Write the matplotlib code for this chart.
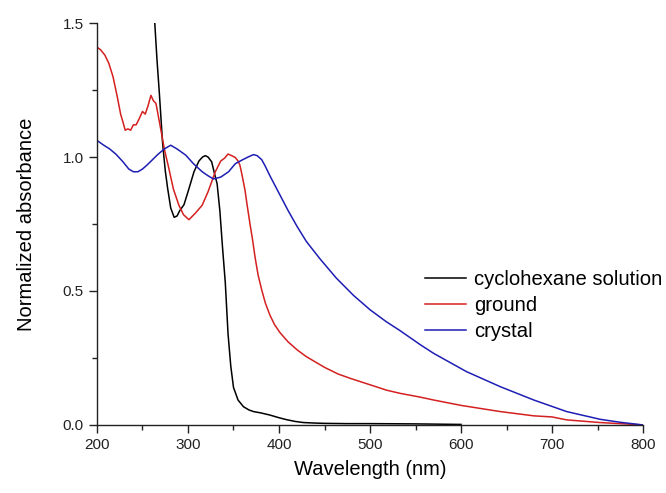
import numpy as np
import matplotlib
matplotlib.use("Agg")
import matplotlib.pyplot as plt
from matplotlib.ticker import MultipleLocator

plt.rcParams['font.family'] = ['Liberation Sans', 'DejaVu Sans']

# cyclohexane solution
wl_sol = [263.5, 266, 268.5, 272, 275, 277.6, 281, 284.8, 288, 291, 295.6, 300,
          306.6, 312, 316, 319, 322, 326, 329, 332, 335, 338, 341, 344, 347, 350,
          355, 361, 367, 372, 380, 390, 400, 408, 418, 427, 440, 450, 475, 500, 550, 600]
abs_sol = [1.50, 1.36, 1.24, 1.056, 0.95, 0.884, 0.81, 0.775, 0.78, 0.80, 0.822, 0.87,
           0.945, 0.985, 1.0, 1.005, 1.0, 0.982, 0.94, 0.90, 0.80, 0.66, 0.53, 0.34,
           0.22, 0.14, 0.093, 0.068, 0.056, 0.05, 0.045, 0.037, 0.027, 0.02, 0.013,
           0.009, 0.007, 0.006, 0.005, 0.005, 0.004, 0.002]

# ground
wl_gr = [200, 204, 208.7, 213, 217.6, 222, 226, 228.6, 231, 234, 237, 240, 243, 246,
         250, 253, 256, 259.3, 262, 264.8, 267, 270, 274, 279, 284, 290, 295, 301,
         308, 315.6, 322, 330, 336, 340, 344, 348, 352, 355, 357, 359, 362.6, 365,
         368, 371, 373.6, 377, 381, 385, 390, 395, 401, 410, 420, 430, 440, 450, 465,
         480, 500, 518, 533, 555, 570, 600, 643, 680, 700, 716, 752.7, 780, 800]
abs_gr = [1.41, 1.40, 1.38, 1.35, 1.30, 1.23, 1.16, 1.13, 1.10, 1.105, 1.10, 1.12,
          1.12, 1.14, 1.17, 1.16, 1.19, 1.23, 1.21, 1.20, 1.16, 1.105, 1.03, 0.957,
          0.88, 0.82, 0.785, 0.766, 0.79, 0.82, 0.87, 0.945, 0.985, 0.995, 1.011,
          1.005, 0.998, 0.985, 0.97, 0.939, 0.877, 0.82, 0.753, 0.69, 0.628, 0.56,
          0.504, 0.455, 0.41, 0.375, 0.345, 0.31, 0.28, 0.255, 0.235, 0.215, 0.19,
          0.172, 0.15, 0.13, 0.118, 0.104, 0.093, 0.073, 0.05, 0.034, 0.03, 0.019,
          0.009, 0.004, 0.0]

# crystal
wl_cr = [200, 207, 214, 221, 228.6, 235, 240, 245, 250, 255, 261, 267, 274, 281, 288,
         297.5, 306, 315.6, 322, 328, 336, 344.6, 352, 359, 366, 372, 376, 381, 385,
         390, 400, 410, 420, 430, 445, 463, 482, 500, 518, 533, 555, 570, 606, 643,
         680, 716, 753, 775, 800]
abs_cr = [1.062, 1.045, 1.03, 1.01, 0.982, 0.955, 0.945, 0.945, 0.955, 0.97, 0.99,
          1.01, 1.03, 1.044, 1.03, 1.007, 0.975, 0.945, 0.93, 0.918, 0.925, 0.945,
          0.975, 0.988, 1.0, 1.009, 1.005, 0.99, 0.965, 0.93, 0.865, 0.80, 0.74,
          0.685, 0.62, 0.548, 0.483, 0.43, 0.385, 0.352, 0.30, 0.267, 0.199, 0.143,
          0.093, 0.05, 0.021, 0.01, 0.0]

fig = plt.figure(figsize=(6.66, 4.93), dpi=100)
ax = fig.add_axes([0.1456, 0.138, 0.82, 0.8153])

ax.plot(wl_sol, abs_sol, color='black', lw=1.1, label='cyclohexane solution')
ax.plot(wl_gr, abs_gr, color='#d42020', lw=1.1, label='ground')
ax.plot(wl_cr, abs_cr, color='#1e1eb4', lw=1.1, label='crystal')

ax.set_xlim(200, 800)
ax.set_ylim(0, 1.5)
ax.xaxis.set_major_locator(MultipleLocator(100))
ax.xaxis.set_minor_locator(MultipleLocator(50))
ax.yaxis.set_major_locator(MultipleLocator(0.5))
ax.yaxis.set_minor_locator(MultipleLocator(0.25))
ax.yaxis.set_major_formatter(plt.FormatStrFormatter('%.1f'))

for side in ['top', 'right']:
    ax.spines[side].set_visible(False)
for side in ['left', 'bottom']:
    ax.spines[side].set_linewidth(1.0)
    ax.spines[side].set_color('#222222')
ax.tick_params(which='major', direction='out', length=6, width=1.0, labelsize=11, colors='#222222')
ax.tick_params(which='minor', direction='out', length=3.5, width=1.0, colors='#222222')

ax.set_xlabel('Wavelength (nm)', fontsize=14.5, labelpad=5.5)
ax.set_ylabel('Normalized absorbance', fontsize=14.5, labelpad=19)

ax.legend(loc='upper left', bbox_to_anchor=(0.586, 0.405), frameon=False, fontsize=14.6,
          handlelength=2.0, handletextpad=0.4, labelspacing=0.33, borderaxespad=0)

fig.savefig('out.png', dpi=100)
